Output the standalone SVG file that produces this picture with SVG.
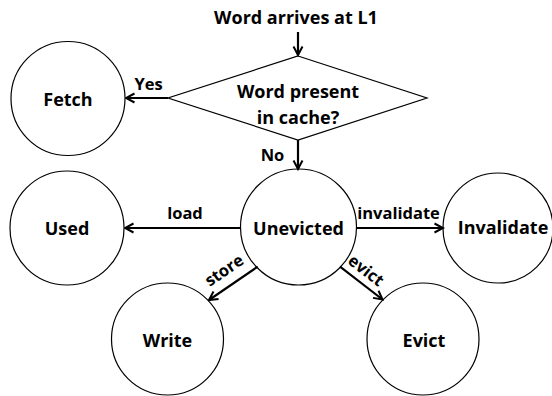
<svg xmlns="http://www.w3.org/2000/svg" width="552" height="396" viewBox="0 0 552 396">
<defs>
<style>
.node{fill:#fff;stroke:#000;stroke-width:1.2}
.lbl{font-family:"Open Sans","Liberation Sans",sans-serif;font-weight:bold;font-size:18px;fill:#000;text-anchor:middle}
.elbl{font-family:"Open Sans","Liberation Sans",sans-serif;font-weight:bold;font-size:16.5px;fill:#000;text-anchor:middle}
.edge{fill:none;stroke:#000;stroke-width:2.2;marker-end:url(#ah)}
</style>
<marker id="ah" viewBox="0 0 12 12" refX="10.5" refY="6" markerWidth="12" markerHeight="12" markerUnits="userSpaceOnUse" orient="auto">
<path d="M2,1.5 L10.5,6 L2,10.5" fill="none" stroke="#000" stroke-width="2"/>
</marker>
</defs>
<rect width="552" height="396" fill="#fff"/>
<g id="start"><text class="lbl" x="296" y="24">Word arrives at L1</text></g>
<g id="decision">
<polygon class="node" points="298,56 427,98 298,140 168,98"/>
<text class="lbl" x="298" y="98">Word present</text>
<text class="lbl" x="298" y="123.5">in cache?</text>
</g>
<g id="fetch"><circle class="node" cx="68" cy="98.5" r="57"/><text class="lbl" x="68" y="106">Fetch</text></g>
<g id="used"><circle class="node" cx="67" cy="228" r="57"/><text class="lbl" x="67" y="235">Used</text></g>
<g id="unevicted"><circle class="node" cx="298.5" cy="227" r="58"/><text class="lbl" x="298.5" y="235">Unevicted</text></g>
<g id="invalidate"><circle class="node" cx="498" cy="228" r="55"/><text class="lbl" x="503" y="234">Invalidate</text></g>
<g id="write"><circle class="node" cx="167.5" cy="339" r="56"/><text class="lbl" x="167.5" y="347">Write</text></g>
<g id="evict"><circle class="node" cx="423" cy="339" r="56"/><text class="lbl" x="424" y="347">Evict</text></g>
<g id="connectors">
<line class="edge" x1="298" y1="32" x2="298" y2="55"/>
<line class="edge" x1="168" y1="98" x2="126" y2="98"/>
<line class="edge" x1="298" y1="140" x2="298" y2="169"/>
<line class="edge" x1="240.5" y1="228" x2="125" y2="228"/>
<line class="edge" x1="356.5" y1="228" x2="443" y2="228"/>
<line class="edge" x1="257.7" y1="266.7" x2="209" y2="300"/>
<line class="edge" x1="340" y1="266.7" x2="382.5" y2="299.5"/>
<text class="elbl" x="148.5" y="90">Yes</text>
<text class="elbl" x="272.5" y="161">No</text>
<text class="elbl" x="185" y="219">load</text>
<text class="elbl" x="398.5" y="219">invalidate</text>
<text class="elbl" transform="translate(227.3,275) rotate(-34.4)">store</text>
<text class="elbl" transform="translate(362.6,275) rotate(37.7)">evict</text>
</g>
</svg>
